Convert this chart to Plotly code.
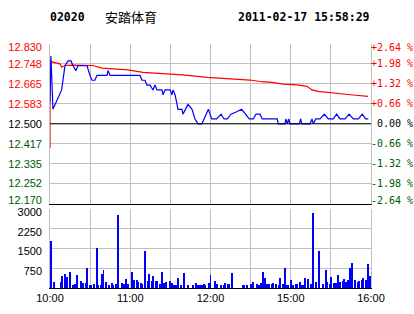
import plotly.graph_objects as go

# ---------------- data ----------------
code = "02020"
name = "安踏体育"
stamp = "2011-02-17 15:58:29"
prev_close = 12.50

# trading minutes since 10:00 (10:00-12:30, 14:30-16:00 -> 0..240)
price_t = [0, 0.7, 2.2, 8.7, 11.2, 13.5, 15.7, 17.2, 19.4, 20.9, 26.2, 27.7, 29.9, 31.4, 33.6,
           35.1, 42.6, 43.4, 44.9, 67.3, 68.8, 71.0, 72.5, 74.8, 77.0, 78.5, 80.0, 83.7, 84.5,
           86.0, 89.7, 91.2, 92.0, 93.5, 95.0, 95.7, 98.7, 99.4, 103.2, 106.2, 108.4, 110.7,
           113.6, 118.4, 120.9, 124.6, 127.9, 130.1, 132.6, 135.3, 139.6, 143.3, 149.0, 152.0,
           154.0, 157.0, 158.7, 169.9, 170.7, 175.7, 176.4, 177.4, 178.5, 179.4, 186.4, 187.4,
           188.2, 194.4, 195.9, 196.9, 198.7, 201.9, 205.1, 208.1, 211.8, 214.3, 216.8, 220.6,
           223.6, 226.8, 230.5, 233.5, 236.0, 238.0]
price_v = [12.59, 12.78, 12.56, 12.64, 12.74, 12.76, 12.76, 12.74, 12.72, 12.74, 12.74, 12.74, 12.70,
           12.68, 12.68, 12.70, 12.70, 12.72, 12.70, 12.70, 12.68, 12.68, 12.66, 12.66, 12.64,
           12.66, 12.64, 12.64, 12.62, 12.64, 12.64, 12.62, 12.64, 12.62, 12.58, 12.56, 12.56,
           12.54, 12.58, 12.56, 12.52, 12.50, 12.50, 12.56, 12.52, 12.52, 12.54, 12.52, 12.52,
           12.54, 12.55, 12.56, 12.52, 12.52, 12.54, 12.54, 12.52, 12.52, 12.50, 12.50, 12.52,
           12.50, 12.52, 12.50, 12.50, 12.52, 12.50, 12.50, 12.52, 12.50, 12.52, 12.52, 12.54,
           12.52, 12.52, 12.54, 12.52, 12.52, 12.54, 12.52, 12.52, 12.54, 12.52, 12.52]

avg_t = [0, 0, 2.2, 7.5, 8.7, 11.2, 17.2, 32.1, 38.9, 47.1, 58.3, 69.5, 80.0, 99.4, 117.4, 127.1,
         134.6, 149.5, 158.5, 166.0, 174.2, 184.7, 192.1, 195.9, 200.4, 207.9, 218.3, 226.5, 237.8]
avg_v = [12.40, 12.76, 12.755, 12.748, 12.734, 12.741, 12.743, 12.741, 12.730, 12.727, 12.723,
         12.713, 12.709, 12.702, 12.692, 12.688, 12.684, 12.681, 12.674, 12.671, 12.664, 12.661,
         12.655, 12.640, 12.634, 12.629, 12.625, 12.619, 12.613]

vol_t = [0, 1, 3, 8, 9, 11, 12, 13, 15, 17, 19, 20, 23, 25, 27, 28, 30, 31, 33, 35, 36, 38, 39, 40,
         42, 44, 46, 47, 49, 50, 51, 54, 55, 57, 58, 61, 63, 65, 66, 68, 69, 71, 73, 74, 76, 77,
         79, 80, 82, 84, 85, 87, 90, 91, 93, 94, 96, 98, 100, 103, 107, 109, 111, 112, 114, 115,
         116, 119, 120, 123, 125, 128, 130, 131, 133, 134, 136, 144, 145, 147, 150, 152, 155,
         156, 158, 159, 161, 162, 164, 166, 167, 169, 171, 172, 174, 176, 177, 178, 180, 182,
         184, 185, 187, 188, 189, 191, 193, 195, 196, 197, 199, 201, 204, 206, 207, 209, 210,
         212, 214, 215, 217, 219, 220, 221, 223, 224, 226, 228, 230, 231, 233, 234, 236, 238, 239]
vol_v = [127, 1772, 203, 203, 443, 506, 89, 392, 582, 101, 127, 481, 240, 165, 165, 734, 89, 89,
         127, 1506, 89, 89, 506, 658, 203, 89, 165, 89, 127, 127, 2785, 165, 127, 316, 127, 582,
         278, 278, 203, 165, 127, 1418, 240, 506, 240, 430, 240, 240, 127, 582, 165, 203, 240,
         165, 89, 89, 354, 89, 544, 89, 89, 165, 89, 89, 89, 127, 89, 165, 468, 240, 127, 89, 89,
         165, 127, 127, 544, 89, 89, 89, 127, 203, 127, 89, 165, 582, 354, 127, 127, 127, 165,
         127, 89, 354, 127, 734, 89, 89, 278, 89, 127, 127, 203, 89, 89, 354, 316, 127, 127,
         2848, 203, 1380, 127, 658, 203, 127, 392, 165, 165, 468, 203, 240, 316, 203, 278, 734,
         924, 278, 203, 240, 278, 354, 278, 886, 430]

price_ticks = [12.170, 12.2525, 12.335, 12.4175, 12.500, 12.5825, 12.665, 12.7475, 12.830]
price_labels = ["12.170", "12.252", "12.335", "12.417", "12.500", "12.583", "12.665", "12.748", "12.830"]
pct_ticks = [-2.64, -1.98, -1.32, -0.66, 0.0, 0.66, 1.32, 1.98, 2.64]
pct_labels = ["-2.64 %", "-1.98 %", "-1.32 %", "-0.66 %", "\u00a00.00 %", "+0.66 %", "+1.32 %", "+1.98 %", "+2.64 %"]
vol_ticks = [0, 750, 1500, 2250, 3000]
vol_labels = ["", "750", "1500", "2250", "3000"]
time_ticks = [0, 30, 60, 90, 120, 150, 180, 210, 240]
time_labels = ["10:00", "", "11:00", "", "12:00", "", "15:00", "", "16:00"]

# ---------------- style ----------------
RED = "#ff0000"
GREEN = "#005800"
BLACK = "#000000"
GRID = "#c0c0c0"
SANS = "Liberation Sans, Arial, sans-serif"
MONO = "DejaVu Sans Mono, monospace"

PRICE_PX = 159.0   # pixel height of price panel
VOL_PX = 79.0      # pixel height of volume panel
EDGE_NUDGE_PX = 3.0  # end labels are pulled inside the panel


def colored(labels, vals, center):
    out = []
    for lab, v in zip(labels, vals):
        c = RED if v > center + 1e-9 else (GREEN if v < center - 1e-9 else BLACK)
        out.append('<span style="color:%s">%s</span>' % (c, lab))
    return out


def nudged(vals):
    lo, hi = vals[0], vals[-1]
    d = (hi - lo) / PRICE_PX * EDGE_NUDGE_PX
    out = list(vals)
    out[0] = lo + d
    out[-1] = hi - d
    return out


p_lo, p_hi = price_ticks[0], price_ticks[-1]
q_lo, q_hi = pct_ticks[0], pct_ticks[-1]
v_lo, v_hi = vol_ticks[0], vol_ticks[-1]
v_shift = (v_hi - v_lo) / VOL_PX * 3.0

fig = go.Figure()
fig.add_trace(go.Bar(x=vol_t, y=vol_v, width=0.75, marker=dict(color="#0000ff", line=dict(width=0)),
                     xaxis="x2", yaxis="y2", hoverinfo="skip"))
fig.add_trace(go.Scatter(x=avg_t, y=avg_v, mode="lines", line=dict(color=RED, width=1.2),
                         xaxis="x", yaxis="y", hoverinfo="skip"))
fig.add_trace(go.Scatter(x=price_t, y=price_v, mode="lines", line=dict(color="#0000ff", width=1.2),
                         xaxis="x", yaxis="y", hoverinfo="skip"))
# invisible carriers for the label axes
clear = dict(color="rgba(0,0,0,0)")
fig.add_trace(go.Scatter(x=[0, 240], y=[q_lo, q_hi], mode="lines", line=clear,
                         xaxis="x", yaxis="y3", hoverinfo="skip"))
fig.add_trace(go.Scatter(x=[0, 240], y=[p_lo, p_hi], mode="lines", line=clear,
                         xaxis="x", yaxis="y4", hoverinfo="skip"))
fig.add_trace(go.Scatter(x=[0, 240], y=[v_lo + v_shift, v_hi], mode="lines", line=clear,
                         xaxis="x2", yaxis="y5", hoverinfo="skip"))

axis_common = dict(showgrid=True, gridcolor=GRID, gridwidth=1, zeroline=False, ticks="",
                   automargin=False)
label_common = dict(showgrid=False, zeroline=False, ticks="", showline=False, automargin=False)
P_DOM = [0.346, 1]
V_DOM = [0, 0.3225]

fig.update_layout(
    width=414, height=314,
    margin=dict(l=50, r=43, t=44, b=26, autoexpand=False),
    paper_bgcolor="white", plot_bgcolor="white",
    showlegend=False,
    bargap=0,
    xaxis=dict(domain=[0, 1], anchor="y", range=[0, 240], tickvals=time_ticks,
               showticklabels=False, showline=True, linecolor=BLACK, linewidth=1, **axis_common),
    xaxis2=dict(domain=[0, 1], anchor="y2", range=[0, 240], matches="x", tickvals=time_ticks,
                ticktext=time_labels, tickfont=dict(family=SANS, size=11, color=BLACK),
                showline=True, linecolor=BLACK, linewidth=1, **axis_common),
    # price panel: gridlines only
    yaxis=dict(domain=P_DOM, anchor="x", range=[p_lo, p_hi], tickvals=price_ticks,
               showticklabels=False, showline=True, linecolor=GRID, mirror=True, **axis_common),
    # price labels (left)
    yaxis4=dict(overlaying="y", side="left", anchor="x", range=[p_lo, p_hi],
                tickvals=nudged(price_ticks), ticktext=colored(price_labels, price_ticks, prev_close),
                tickfont=dict(family=SANS, size=11), ticklabelstandoff=7, **label_common),
    # percent labels (right)
    yaxis3=dict(overlaying="y", side="right", anchor="x", range=[q_lo, q_hi],
                tickvals=nudged(pct_ticks), ticktext=colored(pct_labels, pct_ticks, 0.0),
                tickfont=dict(family=MONO, size=10), ticklabelstandoff=-1, **label_common),
    # volume panel: gridlines only
    yaxis2=dict(domain=V_DOM, anchor="x2", range=[v_lo, v_hi], tickvals=vol_ticks,
                showticklabels=False, showline=True, linecolor=GRID, mirror=True, **axis_common),
    # volume labels
    yaxis5=dict(overlaying="y2", side="left", anchor="x2", range=[v_lo + v_shift, v_hi + v_shift],
                tickvals=vol_ticks, ticktext=vol_labels,
                tickfont=dict(family=SANS, size=11, color=BLACK), ticklabelstandoff=7,
                **label_common),
    shapes=[dict(type="line", xref="x domain", yref="y", x0=0, x1=1, y0=prev_close, y1=prev_close,
                 line=dict(color=BLACK, width=1))],
)


def px_x(px):
    return (px - 50) / 321.0


def px_y(py):
    return (288 - py) / 244.0


fig.add_annotation(text="<b>%s</b>" % code, xref="paper", yref="paper", x=px_x(49), y=px_y(16.5),
                   xanchor="left", yanchor="middle", showarrow=False, borderpad=0,
                   font=dict(family=MONO, size=11.5, color=BLACK))
fig.add_annotation(text=name, xref="paper", yref="paper", x=px_x(104), y=px_y(16.5),
                   xanchor="left", yanchor="middle", showarrow=False, borderpad=0,
                   font=dict(family="Noto Sans CJK SC", size=13, color=BLACK))
fig.add_annotation(text="<b>%s</b>" % stamp, xref="paper", yref="paper", x=px_x(371), y=px_y(16.5),
                   xanchor="right", yanchor="middle", showarrow=False, borderpad=0,
                   font=dict(family=MONO, size=11.5, color=BLACK))

fig.write_html("out.html")
